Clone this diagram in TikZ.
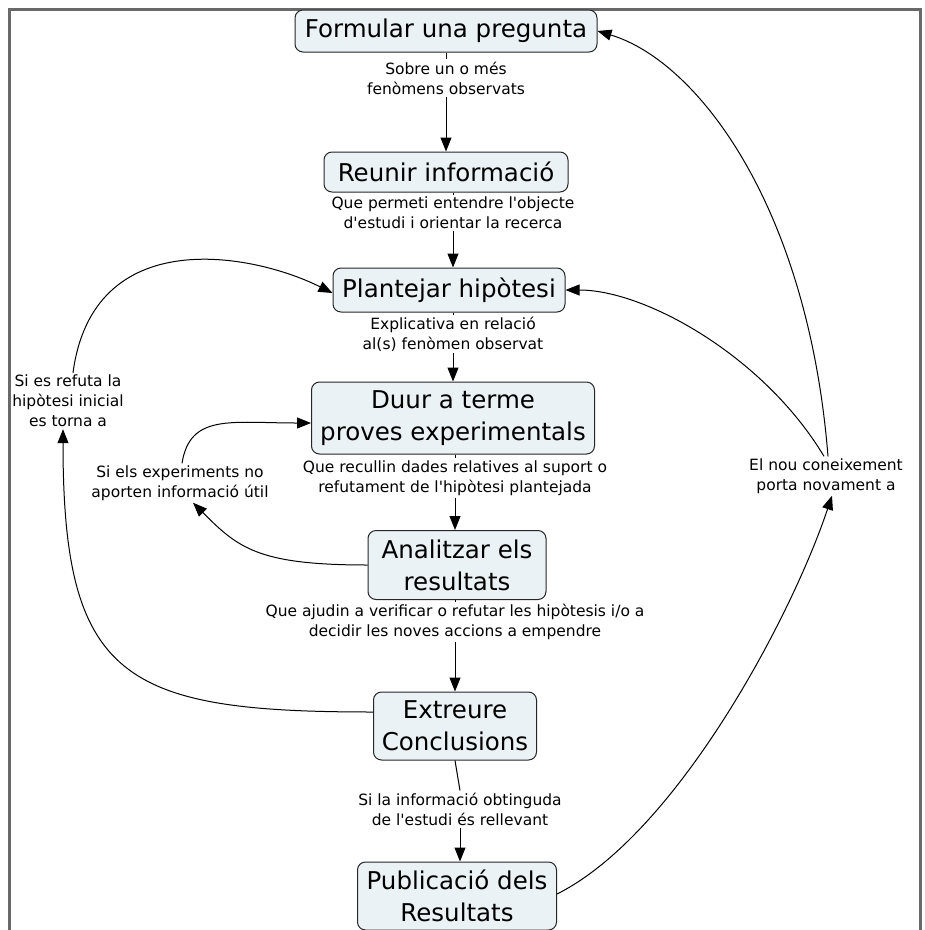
\documentclass[tikz,border=0pt]{standalone}
\usepackage{fontspec}
\setmainfont{DejaVu Sans}
\usetikzlibrary{arrows.meta}
\definecolor{boxfill}{RGB}{234,242,245}
\definecolor{framegray}{RGB}{105,105,105}
\newcommand{\apo}{\textquotesingle}
\begin{document}
\begin{tikzpicture}[x=1pt,y=-1pt,
  box/.style={draw=black!85, fill=boxfill, rounded corners=8pt, line width=1pt,
    align=center, font=\fontsize{24.5}{32}\selectfont, inner sep=2pt},
  lab/.style={align=center, font=\fontsize{15.5}{20}\selectfont, inner sep=2pt},
  conn/.style={line width=1pt, draw=black},
  arr/.style={conn, -{Triangle[length=14pt,width=11pt]}}]
\useasboundingbox (0,0) rectangle (925,930);
\draw[framegray, line width=3pt] (9,931) -- (9,9) -- (920,9) -- (920,931);

% boxes
\node[box, minimum width=302, minimum height=42] (f) at (446,31) {Formular una pregunta};
\node[box, minimum width=244, minimum height=40] (r) at (446,172) {Reunir informació};
\node[box, minimum width=232, minimum height=44] (p) at (449,290) {Plantejar hipòtesi};
\node[box, minimum width=283, minimum height=72] (d) at (453,418) {Duur a terme\\proves experimentals};
\node[box, minimum width=178, minimum height=69] (a) at (457,565) {Analitzar els\\resultats};
\node[box, minimum width=163, minimum height=68] (e) at (455,726) {Extreure\\Conclusions};
\node[box, minimum width=199, minimum height=68] (pub) at (457,896) {Publicació dels\\Resultats};

% labels
\node[lab] (l1) at (446,78) {Sobre un o més\\fenòmens observats};
\node[lab] (l2) at (453,213) {Que permeti entendre l\apo objecte\\d\apo estudi i orientar la recerca};
\node[lab] (l3) at (453,334) {Explicativa en relació\\al(s) fenòmen observat};
\node[lab] (l4) at (455,478) {Que recullin dades relatives al suport o\\refutament de l\apo hipòtesi plantejada};
\node[lab] (l5) at (455,622) {Que ajudin a verificar o refutar les hipòtesis i/o a\\decidir les noves accions a empendre};
\node[lab] (l6) at (460,809) {Si la informació obtinguda\\de l\apo estudi és rellevant};
\node[lab] (lr) at (68,401) {Si es refuta la\\hipòtesi inicial\\es torna a};
\node[lab] (le) at (180,483) {Si els experiments no\\aporten informació útil};
\node[lab] (ln) at (826,476) {El nou coneixement\\porta novament a};

% main chain
\draw[conn] (f.south) -- (f.south |- l1.north);
\draw[arr] (l1.south) -- (l1.south |- r.north);
\draw[conn] (r.south -| l2.north) -- (l2.north);
\draw[arr] (l2.south) -- (l2.south |- p.north);
\draw[conn] (p.south -| l3.north) -- (l3.north);
\draw[arr] (l3.south) -- (l3.south |- d.north);
\draw[conn] (d.south -| l4.north) -- (l4.north);
\draw[arr] (l4.south) -- (l4.south |- a.north);
\draw[conn] (a.south -| l5.north) -- (l5.north);
\draw[arr] (l5.south) -- (l5.south |- e.north);
\draw[conn] (e.south) -- (l6.north);
\draw[arr] (l6.south) -- (l6.south |- pub.north);

% left loops
\coordinate (lrtop) at ([xshift=5pt]lr.north);
\draw[arr] (lrtop) .. controls +(20,-150) and +(-80,-40) .. ([yshift=-3pt]p.west);
\coordinate (lrbot) at ([xshift=-5pt]lr.south);
\draw[arr] ([yshift=14pt]e.west) .. controls +(-250,0) and +(0,250) .. (lrbot);
\coordinate (letop) at ([xshift=2pt]le.north);
\draw[arr] (letop) .. controls +(8,-50) and +(-80,0) .. ([yshift=-5pt]d.west);
\coordinate (lebot) at ([xshift=13pt]le.south);
\draw[arr] (a.west) .. controls +(-110,0) and +(45,45) .. (lebot);

% right loops
\coordinate (lntop) at ([xshift=2pt]ln.north);
\coordinate (lntop2) at ([xshift=-2pt]ln.north);
\draw[arr] (lntop) .. controls +(-20,-250) and +(100,30) .. (f.east);
\draw[arr] (lntop2) .. controls +(-60,-100) and +(80,0) .. (p.east);
\coordinate (lnbot) at ([xshift=6pt]ln.south);
\draw[arr] ([yshift=2pt]pub.east) .. controls +(120,-60) and +(-40,120) .. (lnbot);
\end{tikzpicture}
\end{document}
